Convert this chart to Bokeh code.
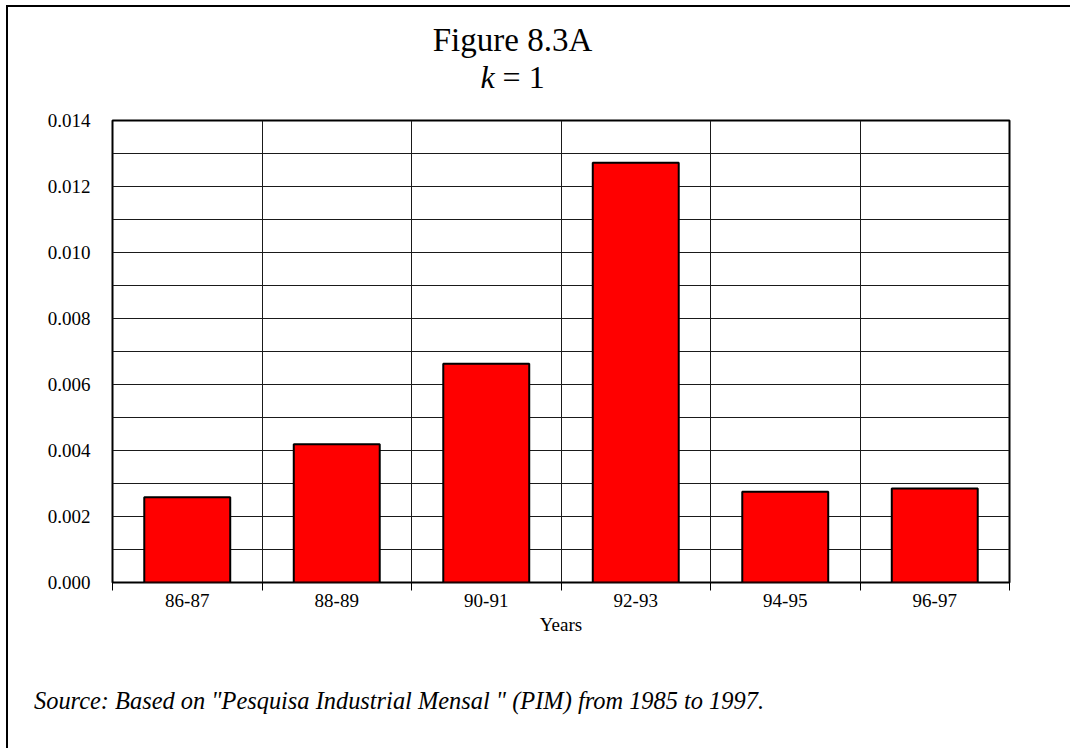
from bokeh.plotting import figure
from bokeh.models import FixedTicker, NumeralTickFormatter, Range1d, ColumnDataSource, Div, Column
from bokeh.embed import file_html
from bokeh.resources import INLINE

categories = ["86-87", "88-89", "90-91", "92-93", "94-95", "96-97"]
values = [0.00258, 0.00419, 0.00663, 0.01272, 0.00275, 0.00285]
y_label_ticks = [0.000, 0.002, 0.004, 0.006, 0.008, 0.010, 0.012, 0.014]
y_grid_ticks = [0.000, 0.001, 0.002, 0.003, 0.004, 0.005, 0.006, 0.007,
                0.008, 0.009, 0.010, 0.011, 0.012, 0.013, 0.014]
title_line1 = "Figure 8.3A"
title_var, title_rest = "k", "= 1"
source_text = 'Source: Based on "Pesquisa Industrial Mensal " (PIM) from 1985 to 1997.'

W = 1062
FONT = "Liberation Serif"
TITLE_H, FIG_H, SRC_H = 103, 537, 101

n = len(categories)
centers = [i + 0.5 for i in range(n)]
bounds = [float(i) for i in range(n + 1)]

p = figure(width=W, height=FIG_H, output_backend="svg", toolbar_location=None,
           x_range=Range1d(0, n), y_range=Range1d(0, 0.014),
           min_border_left=104, min_border_top=10, min_border_right=61,
           min_border_bottom=65, margin=0)

src = ColumnDataSource(dict(x=centers, top=values, label=categories))
p.vbar(x="x", top="top", bottom=0, width=0.575, source=src,
       fill_color="#FF0000", line_color="black", line_width=2)

p.outline_line_color = "black"
p.outline_line_width = 2

# grids
p.xgrid.ticker = FixedTicker(ticks=bounds)
p.ygrid.ticker = FixedTicker(ticks=y_grid_ticks)
for g in (p.xgrid[0], p.ygrid[0]):
    g.grid_line_color = "#1a1a1a"
    g.grid_line_width = 1
    g.grid_line_alpha = 1

# x axis
xa = p.xaxis[0]
xa.ticker = FixedTicker(ticks=centers, minor_ticks=bounds)
xa.major_label_overrides = {c: lab for c, lab in zip(centers, categories)}
xa.major_tick_out = 0
xa.major_tick_in = 0
xa.minor_tick_out = 8
xa.minor_tick_in = 0
xa.minor_tick_line_color = "black"
xa.minor_tick_line_width = 1
xa.axis_line_color = None
xa.major_label_standoff = 3
xa.major_label_text_font = FONT
xa.major_label_text_font_size = "19px"
xa.major_label_text_color = "black"
xa.axis_label = "Years"
xa.axis_label_text_font = FONT
xa.axis_label_text_font_style = "normal"
xa.axis_label_text_font_size = "19px"
xa.axis_label_text_color = "black"
xa.axis_label_standoff = 4

# y axis
ya = p.yaxis[0]
ya.ticker = FixedTicker(ticks=y_label_ticks)
ya.formatter = NumeralTickFormatter(format="0.000")
ya.major_tick_out = 0
ya.major_tick_in = 0
ya.minor_tick_line_color = None
ya.axis_line_color = None
ya.major_label_standoff = 22
ya.major_label_text_font = FONT
ya.major_label_text_font_size = "19px"
ya.major_label_text_color = "black"

title_html = (
    f'<div style="width:1009px; padding-top:15px; text-align:center; '
    f'font-family:\'{FONT}\'; font-size:32px; line-height:37px; color:black;">'
    f'<span style="font-size:33px;">{title_line1}</span><br>'
    f'<i>{title_var}</i> {title_rest}</div>'
)
title_div = Div(text=title_html, width=W, height=TITLE_H, margin=0)

source_html = (
    f'<div style="padding-top:40px; padding-left:26px; white-space:nowrap; '
    f'font-family:\'{FONT}\'; font-size:24.4px; font-style:italic; line-height:28px; color:black;">'
    f'{source_text}</div>'
)
source_div = Div(text=source_html, width=W, height=SRC_H, margin=0)

layout = Column(children=[title_div, p, source_div], spacing=0,
                styles={"margin-left": "6px", "margin-top": "5px",
                        "border-top": "2px solid black", "border-left": "2px solid black",
                        "border-right": "none", "border-bottom": "none"})

open("out.html", "w").write(file_html(layout, INLINE))
